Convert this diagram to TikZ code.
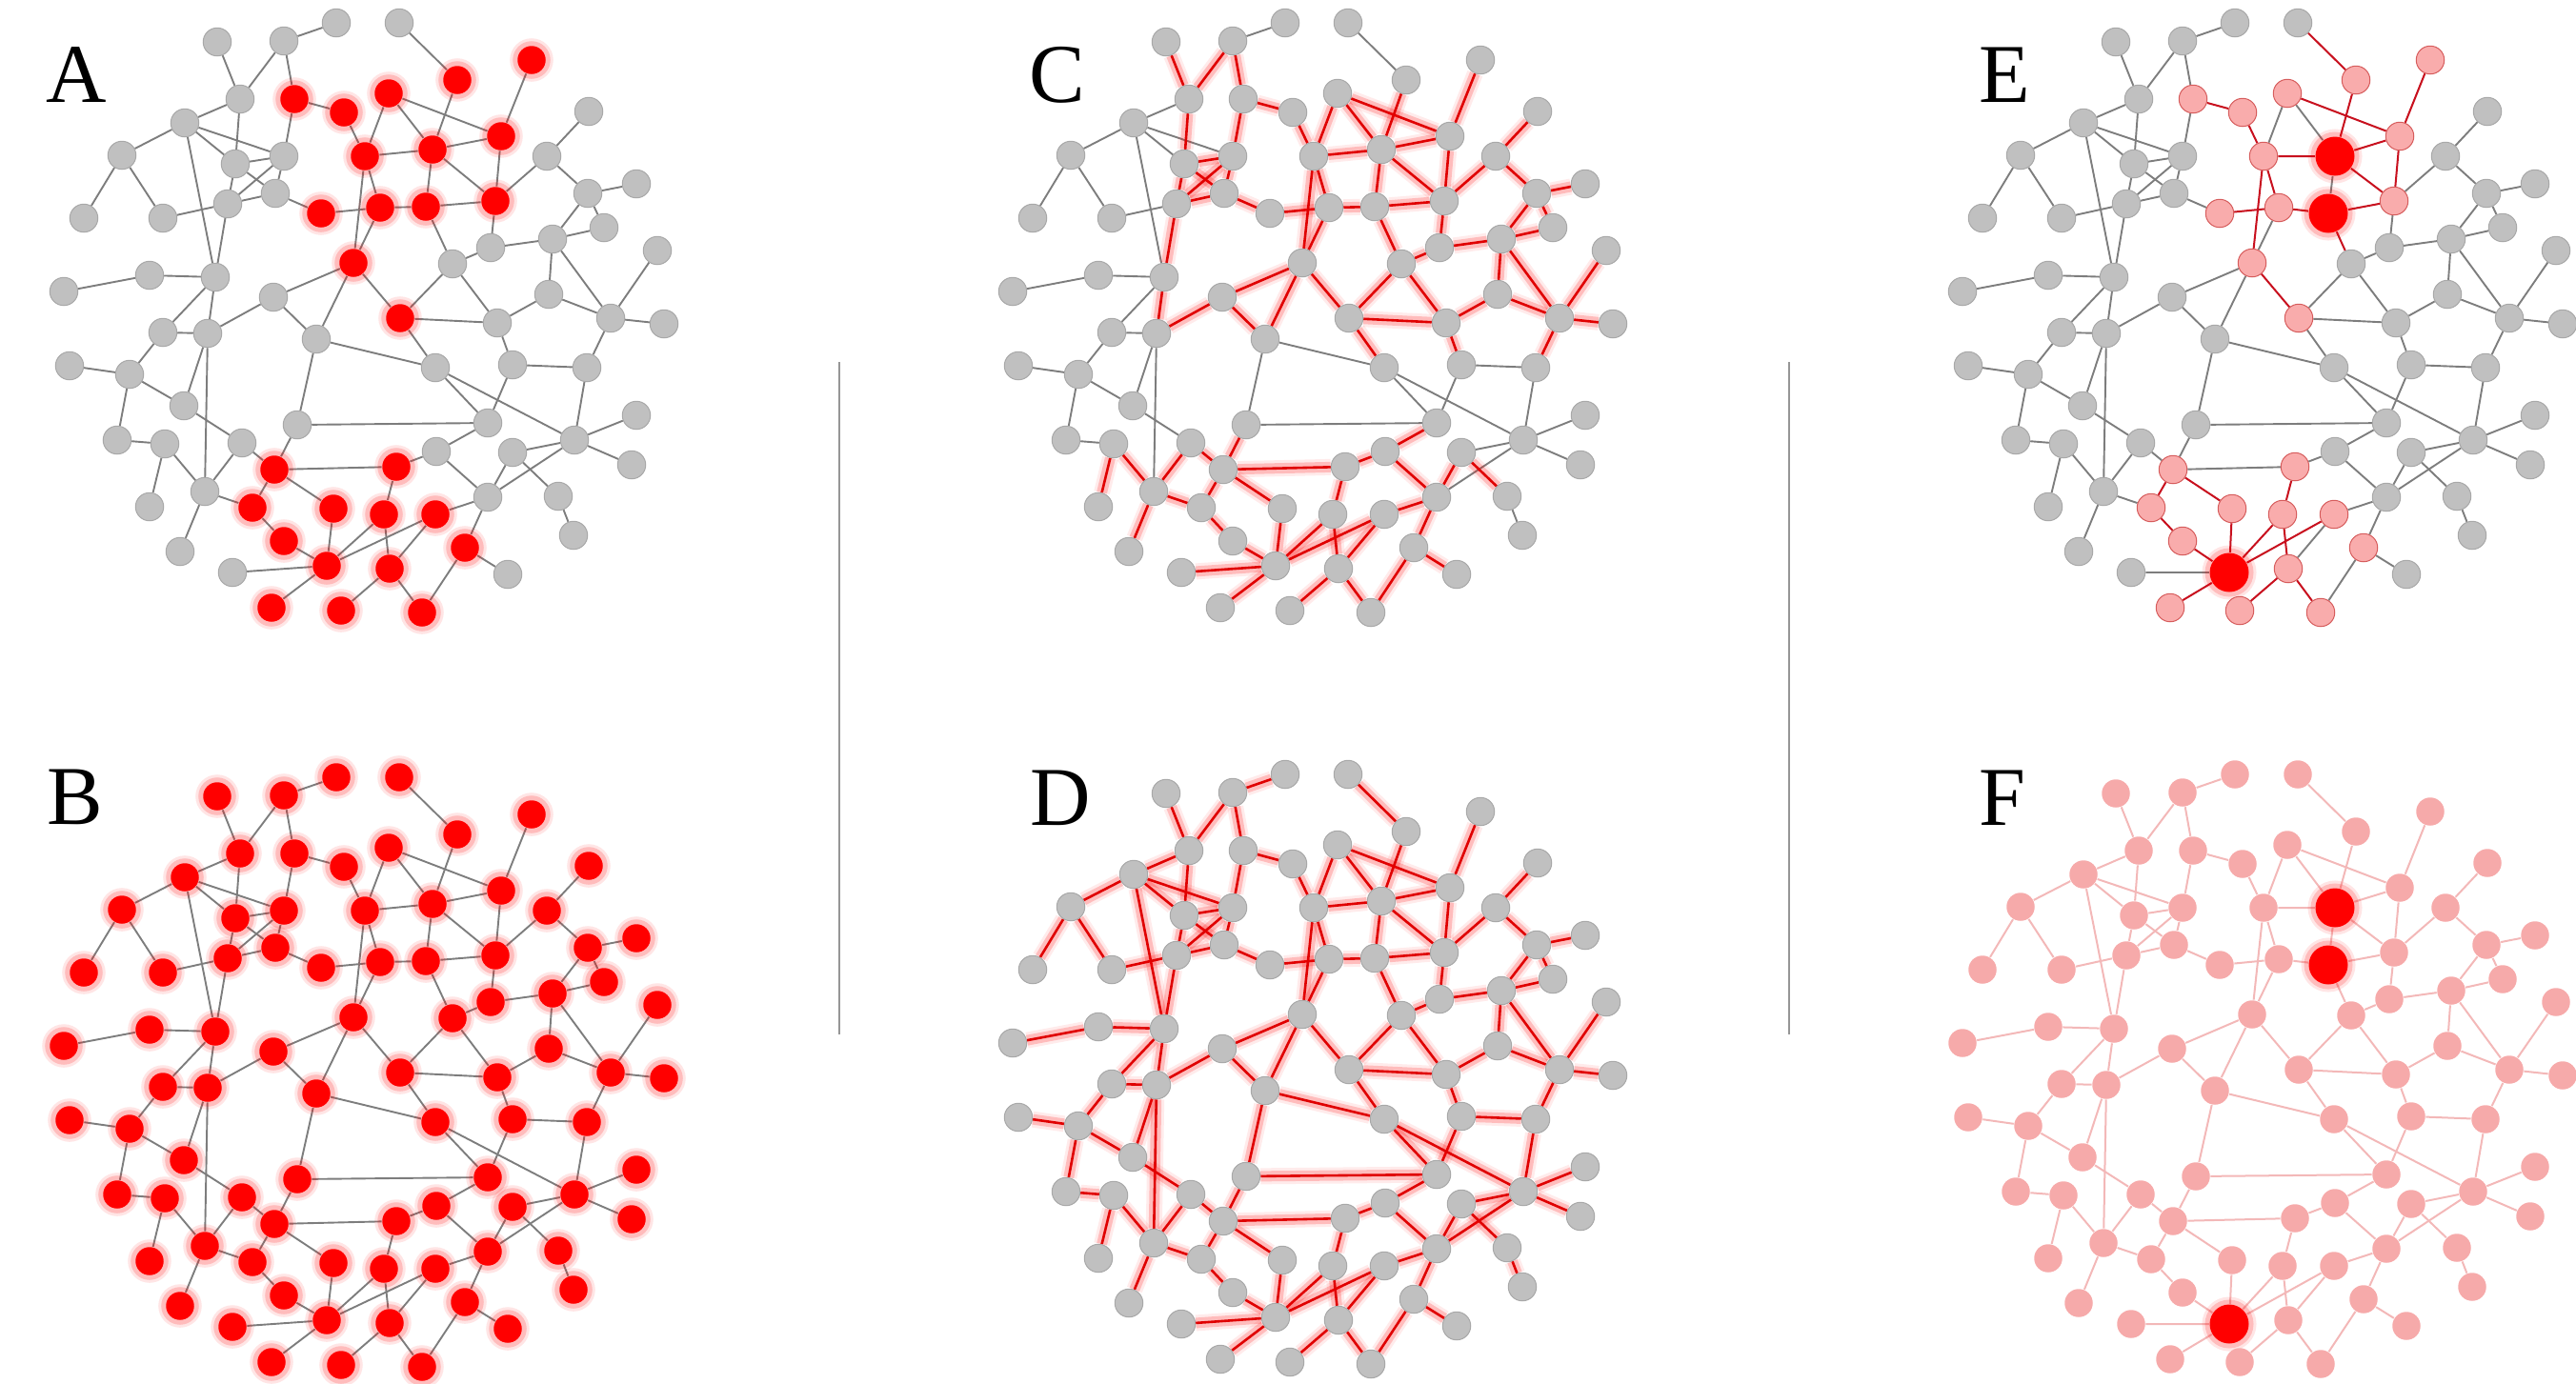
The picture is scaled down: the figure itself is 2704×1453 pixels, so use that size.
\documentclass[tikz,border=0pt]{standalone}
\usepackage{fontspec}
\setmainfont{Liberation Serif}
\pgfdeclarelayer{background}
\pgfsetlayers{background,main}
\definecolor{nodegray}{RGB}{192,192,192}
\definecolor{nodeline}{RGB}{168,168,168}
\definecolor{edgegray}{RGB}{125,125,125}
\definecolor{hotred}{RGB}{255,0,0}
\definecolor{pathred}{RGB}{200,16,30}
\definecolor{softpink}{RGB}{249,172,172}
\definecolor{pinkline}{RGB}{214,92,92}
\definecolor{fadepink}{RGB}{246,170,170}
\definecolor{fadeline}{RGB}{243,184,184}
\definecolor{sepgray}{RGB}{150,150,150}
\tikzset{
  netnode/.style={circle, inner sep=0pt, minimum size=2.95mm},
  graynode/.style={netnode, fill=nodegray, draw=nodeline, line width=0.1mm},
  glownode/.style={netnode, fill=hotred, preaction={draw=hotred, draw opacity=0.1, line width=1.6mm}, preaction={draw=hotred, draw opacity=0.18, line width=1mm}},
  bignode/.style={glownode, minimum size=4.1mm, xshift=0.4mm, yshift=-0.7mm},
  pinknode/.style={netnode, fill=softpink, draw=pinkline, line width=0.1mm},
  fadenode/.style={netnode, fill=fadepink},
  anode0/.style={graynode}, anode1/.style={glownode}, anode2/.style={glownode},
  enode0/.style={graynode}, enode1/.style={pinknode}, enode2/.style={bignode},
  fnode0/.style={fadenode}, fnode1/.style={fadenode}, fnode2/.style={bignode},
  grayedge/.style={draw=edgegray, line width=0.19mm},
  glowedge/.style={draw=hotred!88!black, line width=0.26mm, preaction={draw=hotred, draw opacity=0.08, line width=1.7mm}, preaction={draw=hotred, draw opacity=0.2, line width=1.1mm}},
  cedge0/.style={grayedge}, cedge1/.style={glowedge},
  eedge0/.style={grayedge}, eedge1/.style={draw=pathred, line width=0.2mm},
  fadeedge/.style={draw=fadeline, line width=0.2mm},
  panellabel/.style={anchor=base west, inner sep=0pt, font=\fontsize{25}{30}\selectfont},
  sepline/.style={draw=sepgray, line width=0.15mm}
}
\newcommand\netnodes{1/353/24/0, 2/228/44/0, 3/298/43/0, 4/252/104/0, 5/309/104/1,
  6/361/118/1, 7/383/164/1, 8/194/129/0, 9/128/163/0, 10/247/172/0, 11/298/164/0,
  12/289/203/0, 13/239/214/0, 14/171/229/0, 15/88/229/0, 16/337/224/1, 17/371/276/1,
  18/157/289/0, 19/226/291/0, 20/67/306/0, 21/287/312/0, 22/419/24/0, 23/480/84/1,
  24/408/98/1, 25/558/63/1, 26/454/157/2, 27/526/143/1, 28/399/218/1, 29/447/217/2,
  30/520/211/1, 31/574/164/0, 32/618/117/0, 33/617/203/0, 34/668/193/0, 35/634/239/0,
  36/580/251/0, 37/515/260/0, 38/475/277/0, 39/420/334/1, 40/522/339/0, 41/576/309/0,
  42/641/334/0, 43/690/263/0, 44/697/340/0, 45/171/349/0, 46/218/350/0, 47/332/356/0,
  48/73/384/0, 49/136/393/0, 50/193/426/0, 51/312/446/0, 52/123/462/0, 53/173/466/0,
  54/254/465/0, 55/288/493/1, 56/215/516/0, 57/157/532/0, 58/265/533/1, 59/350/534/1,
  60/298/568/1, 61/189/579/0, 62/244/601/0, 63/343/594/2, 64/285/638/1, 65/358/641/1,
  66/457/386/0, 67/538/383/0, 68/616/386/0, 69/512/444/0, 70/668/436/0, 71/458/474/0,
  72/416/490/1, 73/538/475/0, 74/603/462/0, 75/663/488/0, 76/512/522/0, 77/586/521/0,
  78/602/562/0, 79/403/540/1, 80/457/540/1, 81/488/575/1, 82/409/597/1, 83/533/603/0,
  84/443/643/1}
\newcommand\netedges{3/1/0/0, 2/4/1/0, 3/4/1/0, 3/5/1/0, 5/6/1/1, 6/7/1/1, 5/11/1/0,
  8/4/0/0, 8/9/0/0, 8/10/0/0, 8/11/0/0, 8/19/0/0, 4/10/1/0, 10/11/1/0, 10/12/1/0,
  11/12/1/0, 11/13/1/0, 10/13/1/0, 9/15/0/0, 9/14/0/0, 14/13/0/0, 13/12/1/0, 12/16/1/0,
  16/28/1/1, 13/19/1/0, 7/17/1/1, 18/19/0/0, 20/18/0/0, 17/21/1/0, 17/47/1/0, 46/21/1/0,
  21/47/1/0, 22/23/0/1, 24/27/1/1, 24/7/1/0, 24/26/1/0, 23/26/1/1, 25/27/1/1, 26/27/1/1,
  7/26/1/1, 26/29/1/0, 26/30/1/1, 27/30/1/1, 7/28/1/1, 28/29/1/1, 29/30/1/1, 30/31/1/0,
  31/32/1/0, 31/33/1/0, 33/34/1/0, 33/35/1/0, 33/36/1/0, 36/35/1/0, 30/37/1/0, 37/36/1/0,
  29/38/1/1, 38/37/1/0, 28/17/1/0, 17/39/1/1, 39/38/1/0, 39/40/1/0, 38/40/1/0, 36/41/1/0,
  36/42/1/0, 41/40/1/0, 41/42/1/0, 43/42/1/0, 42/44/1/0, 45/46/0/0, 45/49/0/0, 45/19/0/0,
  46/19/1/0, 46/50/0/0, 46/56/0/0, 47/66/0/0, 47/51/0/0, 51/69/0/0, 51/55/1/0, 48/49/0/0,
  49/50/0/0, 49/52/0/0, 52/53/0/0, 53/57/1/0, 53/56/1/0, 50/54/0/0, 54/55/1/0, 54/56/1/0,
  56/58/1/0, 56/61/1/0, 55/58/1/1, 55/59/1/1, 55/72/1/0, 58/60/1/1, 60/63/1/1, 59/63/1/1,
  63/62/1/0, 63/64/1/1, 63/79/1/1, 63/80/1/1, 65/82/1/1, 39/66/1/0, 40/67/1/0, 42/68/1/0,
  67/68/0/0, 67/69/0/0, 66/69/0/0, 66/74/0/0, 68/74/0/0, 74/70/0/0, 74/75/0/0, 74/73/0/0,
  74/76/0/0, 69/71/1/0, 71/72/1/0, 71/76/1/0, 73/76/1/0, 73/77/1/0, 77/78/0/0, 76/80/1/0,
  76/81/1/0, 72/79/1/1, 79/82/1/1, 80/82/1/0, 82/84/1/1, 81/84/1/0, 81/83/1/0}
\newcommand\netpanel[5]{%
  \foreach \k/\px/\py/\ns in \netnodes
    \node[#4] (#1\k) at (#2+\px,#3+\py) {};
  \begin{pgfonlayer}{background}
    \foreach \ea/\eb/\cf/\ef in \netedges
      \draw[#5] (#1\ea) -- (#1\eb);
  \end{pgfonlayer}}
\begin{document}
\begin{tikzpicture}[x=0.1mm, y=-0.1mm]
\useasboundingbox (0,0) rectangle (2704,1453);
\netpanel{A}{0}{0}{anode\ns}{grayedge}
\netpanel{B}{0}{792}{glownode}{grayedge}
\netpanel{C}{996}{0}{graynode}{cedge\cf}
\netpanel{D}{996}{789}{graynode}{glowedge}
\netpanel{E}{1993}{0}{enode\ns}{eedge\ef}
\netpanel{F}{1993}{789}{fnode\ns}{fadeedge}
\node[panellabel] (labA) at (48,107) {A};
\node[panellabel] (labB) at (49,865) {B};
\node[panellabel] (labC) at (1080,107) {C};
\node[panellabel] (labD) at (1081,866) {D};
\node[panellabel] (labE) at (2077,107) {E};
\node[panellabel] (labF) at (2077,866) {F};
\draw[sepline] (881,380) -- (881,1086);
\draw[sepline] (1878,380) -- (1878,1086);
\end{tikzpicture}
\end{document}
